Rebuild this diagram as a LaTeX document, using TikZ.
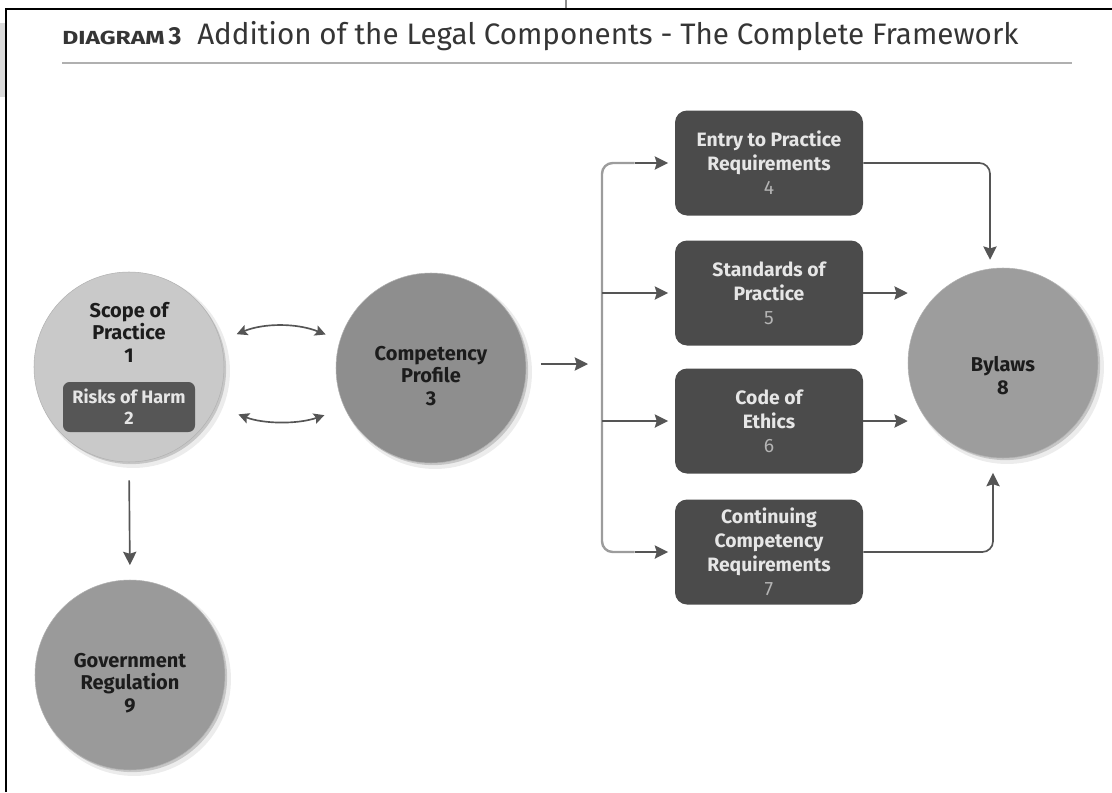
\documentclass[tikz,border=0pt]{standalone}
\usepackage{fontspec}
\setmainfont{Fira Sans}
\newfontfamily\tagfont[FakeStretch=1.3]{Fira Sans}
\usetikzlibrary{arrows.meta,shadows,positioning}

\definecolor{scopefill}{HTML}{C9C9C9}
\definecolor{compfill}{HTML}{8E8E8E}
\definecolor{lawfill}{HTML}{9D9D9D}
\definecolor{govfill}{HTML}{9A9A9A}
\definecolor{cardfill}{HTML}{4B4B4B}
\definecolor{riskfill}{HTML}{565656}
\definecolor{cardtext}{HTML}{E6E6E6}
\definecolor{cardnum}{HTML}{B4B4B4}
\definecolor{inkdark}{HTML}{1C1C1C}
\definecolor{linegray}{HTML}{555555}
\definecolor{trunkgray}{HTML}{9C9C9C}
\definecolor{titlegray}{HTML}{353535}

\newcommand{\cardno}[1]{{\mdseries\color{cardnum}#1}}

\tikzset{
  disc/.style={circle, minimum size=142.5pt, inner sep=0pt, draw=black!30, line width=0.4pt,
    drop shadow={shadow xshift=3pt, shadow yshift=-3pt, opacity=0.15, shadow scale=1.02},
    drop shadow={shadow xshift=1.6pt, shadow yshift=-1.6pt, opacity=0.35}},
  disctext/.style={align=center, text=inkdark, font=\bfseries\fontsize{15pt}{17pt}\selectfont},
  card/.style={rectangle, rounded corners=9pt, minimum width=141pt, minimum height=78.75pt,
    inner sep=0pt, fill=cardfill, align=center, text=cardtext,
    font=\bfseries\fontsize{14.5pt}{18pt}\selectfont},
  arr/.style={draw=linegray, line width=1.25pt, -{Stealth[length=10pt, width=10pt, inset=1.5pt]}},
  twoway/.style={arr, {Stealth[length=8pt, width=8pt, inset=1.5pt]}-{Stealth[length=8pt, width=8pt, inset=1.5pt]}},
  trunk/.style={draw=trunkgray, line width=1.8pt}
}

\begin{document}
\begin{tikzpicture}[x=0.75pt, y=-0.75pt]
  \useasboundingbox (0,0) rectangle (1112,792);
  % page edge
  \fill[black!14] (0,23) rectangle (4.5,97);
  \draw[black!45, line width=0.8pt] (566,0) -- (566,8);
  \draw[black, line width=2.2pt] (6,792) -- (6,9) -- (1112,9);

  % heading
  \node[anchor=base west, inner sep=0pt, text=titlegray] (tag) at (62,45)
    {{\tagfont\bfseries\fontsize{14.2pt}{16pt}\selectfont DIAGRAM}\hspace{3pt}{\bfseries\fontsize{18.5pt}{20pt}\selectfont 3}};
  \node[anchor=base west, inner sep=0pt, text=titlegray, font=\fontsize{22.2pt}{26pt}\selectfont] (title) at (197,45)
    {Addition of the Legal Components - The Complete Framework};
  \draw[trunkgray!80, line width=1.8pt] (62,63) -- (1072,63);

  % circles
  \node[disc, fill=scopefill] (scope) at (129,367) {};
  \node[disctext] (scopetxt) at ([yshift=26pt]scope.center) {Scope of\\Practice\\1};
  \node[rectangle, rounded corners=5pt, fill=riskfill, minimum width=99pt, minimum height=37.5pt,
    inner sep=0pt, align=center, text=cardtext, font=\bfseries\fontsize{13.5pt}{15.8pt}\selectfont]
    (risk) at ([yshift=-30pt]scope.center) {Risks of Harm\\2};

  \node[disc, fill=compfill] (comp) at (431,368) {};
  \node[disctext] (comptxt) at ([yshift=-6pt]comp.center) {Competency\\Profile\\3};

  \node[disc, fill=lawfill] (bylaws) at (1003,363) {};
  \node[disctext] (bylawstxt) at ([yshift=-9.5pt]bylaws.center) {Bylaws\\8};

  \node[disc, fill=govfill] (gov) at (130,675) {};
  \node[disctext] (govtxt) at ([yshift=-6pt]gov.center) {Government\\Regulation\\9};

  % requirement cards
  \node[card] (entry) at (769,163) {Entry to Practice\\Requirements\\\cardno{4}};
  \node[card] (stand) at (769,293) {Standards of\\Practice\\\cardno{5}};
  \node[card] (ethic) at (769,421) {Code of\\Ethics\\\cardno{6}};
  \node[card] (cont)  at (769,552) {Continuing\\Competency\\Requirements\\\cardno{7}};

  \coordinate (fork) at (602,364);

  % connectors
  \draw[twoway, shorten <=13pt, shorten >=11.5pt] (scope.16.5) to[bend left=22] (comp.163.7);
  \draw[twoway, shorten <=18pt, shorten >=16pt] (scope.-24.8) to[bend right=20] (comp.-155.2);
  \draw[arr, shorten <=13.5pt, shorten >=11pt] (scope.south) -- (gov.north);
  \draw[arr, shorten <=11pt, shorten >=10.5pt] (comp.east |- fork) -- (fork);

  \draw[trunk, rounded corners=8pt] (fork) |- ([xshift=-30pt]entry.west);
  \draw[trunk, rounded corners=8pt] (fork) |- ([xshift=-30pt]cont.west);
  \draw[arr, shorten >=5pt] ([xshift=-30pt]entry.west) -- (entry.west);
  \draw[arr, shorten >=5pt] ([xshift=-30pt]cont.west) -- (cont.west);
  \draw[arr, shorten >=5pt] (fork |- stand.west) -- (stand.west);
  \draw[arr, shorten >=5pt] (fork |- ethic.west) -- (ethic.west);

  \draw[arr, rounded corners=8pt, shorten >=6pt] (entry.east) -| ([xshift=-9.75pt]bylaws.north);
  \draw[arr] (stand.east) -- (bylaws.west |- stand.east);
  \draw[arr] (ethic.east) -- (bylaws.west |- ethic.east);
  \draw[arr, rounded corners=8pt, shorten >=11pt] (cont.east) -| ([xshift=-7.5pt]bylaws.south);
\end{tikzpicture}
\end{document}
